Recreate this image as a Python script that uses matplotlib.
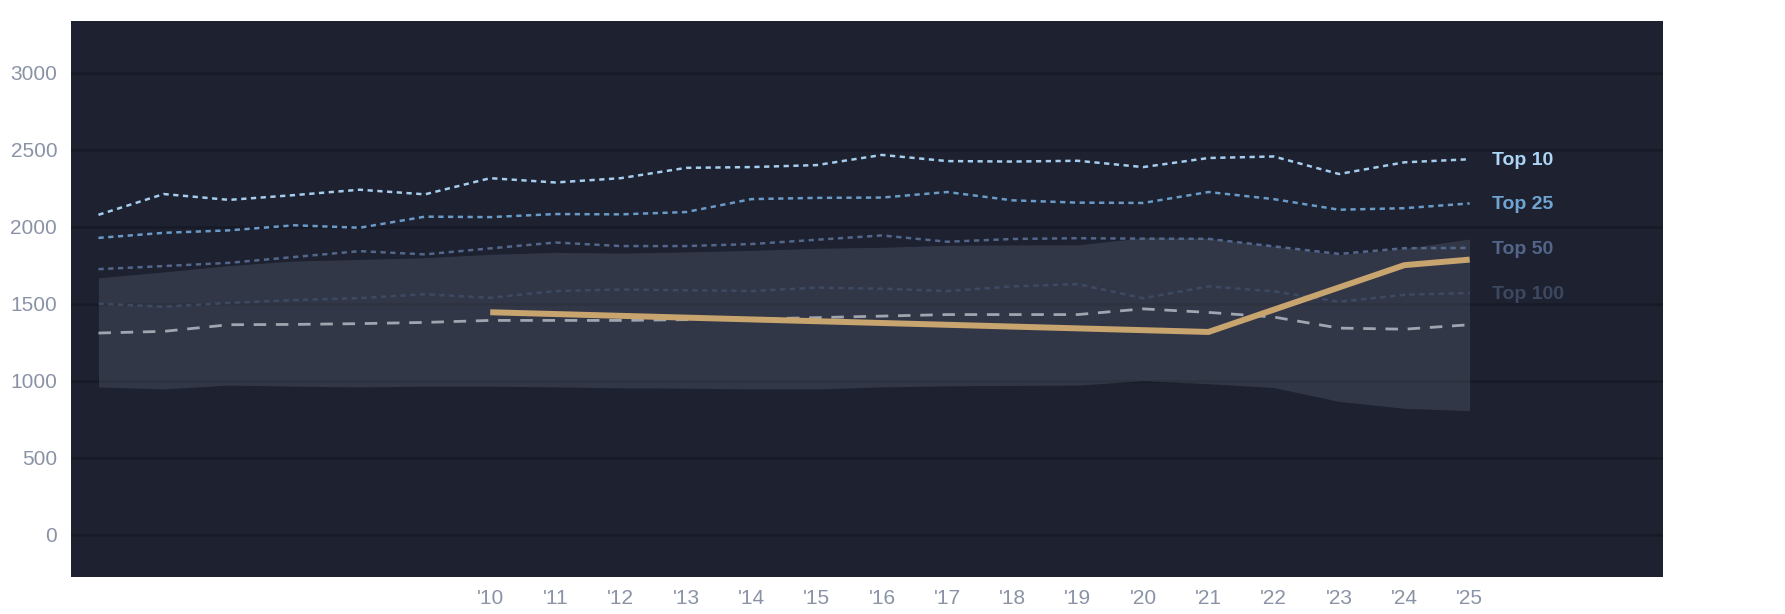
import matplotlib
matplotlib.use('Agg')
import matplotlib.pyplot as plt

plt.rcParams['font.family'] = ['Liberation Sans', 'DejaVu Sans']

# datos
anios = list(range(2004, 2026))
top10 = [2077, 2212, 2174, 2205, 2240, 2210, 2315, 2287, 2315, 2382, 2387,
         2400, 2466, 2426, 2423, 2428, 2387, 2446, 2456, 2342, 2418, 2438]
top25 = [1927, 1960, 1976, 2009, 1993, 2065, 2062, 2082, 2080, 2095, 2179,
         2187, 2189, 2225, 2171, 2156, 2154, 2225, 2179, 2110, 2120, 2151]
top50 = [1724, 1744, 1765, 1803, 1841, 1820, 1859, 1897, 1874, 1874, 1887,
         1915, 1943, 1902, 1920, 1925, 1922, 1921, 1872, 1823, 1860, 1862]
top100 = [1500, 1480, 1505, 1523, 1536, 1561, 1538, 1582, 1592, 1587, 1582,
          1604, 1597, 1582, 1612, 1627, 1535, 1612, 1580, 1512, 1558, 1569]
mediana = [1309, 1320, 1363, 1365, 1370, 1378, 1391, 1391, 1391, 1396, 1400,
           1409, 1419, 1429, 1429, 1429, 1466, 1443, 1413, 1341, 1334, 1363]
banda_sup = [1668, 1706, 1747, 1777, 1787, 1798, 1820, 1833, 1828, 1836, 1846,
             1859, 1866, 1879, 1881, 1882, 1928, 1925, 1872, 1818, 1858, 1920]
banda_inf = [959, 946, 971, 964, 959, 964, 964, 959, 953, 951, 946,
             946, 959, 966, 969, 971, 999, 980, 955, 865, 820, 805]

oro_anios = [2010, 2021, 2024, 2025]
oro_valores = [1444, 1316, 1750, 1786]

etiquetas = ['Top 10', 'Top 25', 'Top 50', 'Top 100']
colores = ['#a6cdee', '#6a9bc8', '#52678a', '#3d4a63']
colores_texto = ['#acd5f6', '#70a4d2', '#53668a', '#3c485f']

ticks_x = list(range(2010, 2026))
ticks_y = [0, 500, 1000, 1500, 2000, 2500, 3000]

fondo = '#1d2130'
gris_texto = '#8a93a6'

fig = plt.figure(figsize=(17.85, 6.14), dpi=100)
ax = fig.add_axes([0.0398, 0.0607, 0.8918, 0.9051])
ax.set_facecolor(fondo)

for y in ticks_y:
    ax.axhline(y, color='#171a26', lw=1.8, zorder=0)

ax.fill_between(anios, banda_inf, banda_sup, color='#8a93a6', alpha=0.2,
                lw=0, zorder=1)

ax.plot(anios, mediana, color='#a0a5b0', lw=2, linestyle=(0, (4.5, 3.5)),
        zorder=2)

series = [top10, top25, top50, top100]
for serie, color in zip(series[::-1], colores[::-1]):
    ax.plot(anios, serie, color=color, lw=1.8, linestyle=(0, (2.1, 1.8)),
            zorder=3)

ax.plot(oro_anios, oro_valores, color='#c8a46e', lw=4.3,
        solid_capstyle='butt', zorder=5)

for serie, texto, color in zip(series, etiquetas, colores_texto):
    ax.text(anios[-1] + 0.35, serie[-1] - 8, texto, color=color, fontsize=14,
            fontweight='bold', va='center', ha='left', zorder=6)

ax.set_xlim(2003.58, 2027.96)
ax.set_ylim(-274, 3336)
ax.set_xticks(ticks_x)
ax.set_xticklabels(["'" + str(a)[2:] for a in ticks_x])
ax.set_yticks(ticks_y)
ax.tick_params(axis='both', length=0, colors=gris_texto, labelsize=15)
ax.tick_params(axis='y', pad=10)
ax.tick_params(axis='x', pad=9)
for s in ax.spines.values():
    s.set_visible(False)

fig.savefig('out.png', dpi=100, facecolor='white')
